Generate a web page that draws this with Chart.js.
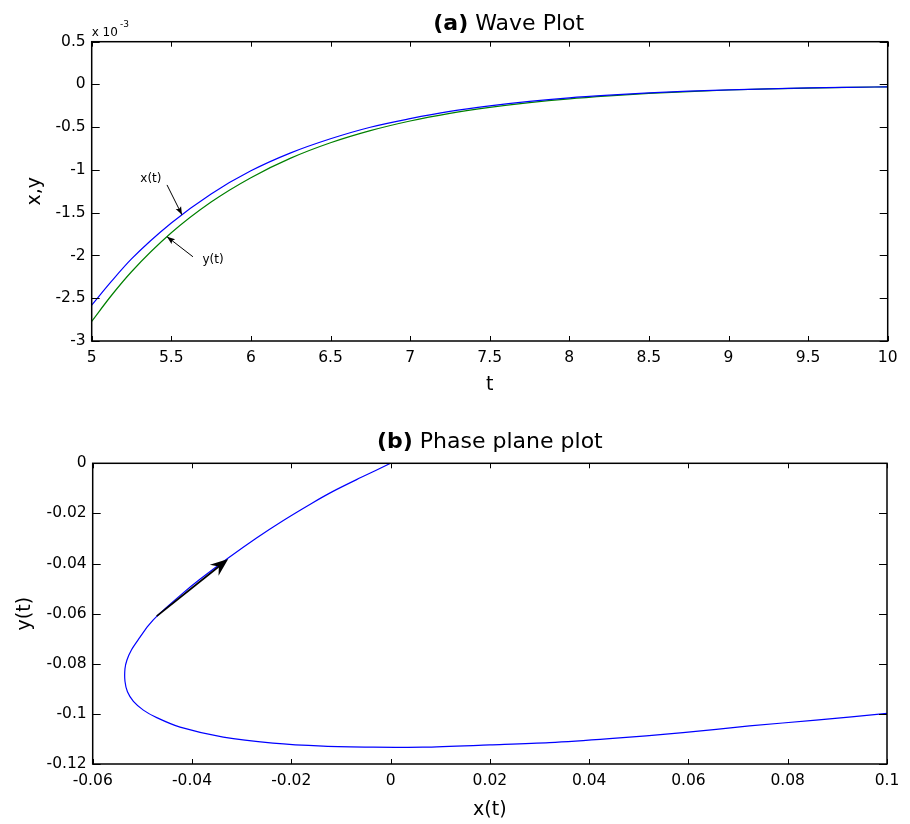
<!DOCTYPE html>
<html><head><meta charset="utf-8">
<script src="https://cdn.jsdelivr.net/npm/chart.js@4.4.1/dist/chart.umd.min.js"></script>
<style>
html,body{margin:0;padding:0;background:#fff;}
#wrap{position:relative;width:910px;height:824px;overflow:hidden;}
canvas{position:absolute;left:0;}
#c1{top:0;} #c2{top:412px;}
</style></head><body>
<div id="wrap"><canvas id="c1" width="910" height="412"></canvas><canvas id="c2" width="910" height="412"></canvas></div>
<script>
// ---- (a) Wave plot data (values in units of 1e-3) ----
const tValues = [5, 5.125, 5.25, 5.5, 5.75, 6, 6.25, 6.5, 6.75, 7, 7.25, 7.5, 7.75, 8, 8.25, 8.5, 8.75, 9, 9.25, 9.5, 9.75, 10];
const xWave  = [-2.58, -2.30, -2.04, -1.62, -1.28, -1.01, -0.80, -0.635, -0.50, -0.40, -0.315, -0.25, -0.197, -0.156, -0.125, -0.099, -0.079, -0.063, -0.051, -0.041, -0.034, -0.028];
const yWave  = [-2.77, -2.465, -2.19, -1.735, -1.375, -1.09, -0.862, -0.682, -0.54, -0.427, -0.338, -0.268, -0.212, -0.168, -0.134, -0.105, -0.083, -0.065, -0.052, -0.042, -0.034, -0.028];
const waveTTicks = [5, 5.5, 6, 6.5, 7, 7.5, 8, 8.5, 9, 9.5, 10];
const waveYTicks = [0.5, 0, -0.5, -1, -1.5, -2, -2.5, -3];

// ---- (b) Phase plane data ----
const phaseX = [0.100, 0.0857, 0.0723, 0.0589, 0.0441, 0.032, 0.020, 0.0065, -0.0035, -0.0136, -0.0237, -0.0337, -0.0424, -0.0471, -0.0498, -0.0518, -0.0530, -0.0535, -0.0535, -0.0531, -0.0522, -0.0505, -0.0488, -0.0468, -0.0420, -0.0384, -0.0327, -0.0270, -0.0216, -0.0160, -0.0116, -0.0060, 0];
const phaseY = [-0.0998, -0.1025, -0.1048, -0.1075, -0.1099, -0.1115, -0.1124, -0.1133, -0.1133, -0.1129, -0.1117, -0.1093, -0.1053, -0.1015, -0.0985, -0.0950, -0.0912, -0.0870, -0.0820, -0.0785, -0.0745, -0.0695, -0.0648, -0.0605, -0.0521, -0.0463, -0.0378, -0.0298, -0.0228, -0.0161, -0.0112, -0.0057, 0];
const phaseXTicks = [-0.06, -0.04, -0.02, 0, 0.02, 0.04, 0.06, 0.08, 0.1];
const phaseYTicks = [0, -0.02, -0.04, -0.06, -0.08, -0.1, -0.12];

// ---- annotations (data coordinates) ----
const waveNotes = [
  {text: 'x(t)', at: [5.372, -1.105], from: [5.473, -1.175], to: [5.567, -1.525]},
  {text: 'y(t)', at: [5.762, -2.05],  from: [5.636, -2.015], to: [5.473, -1.78]}
];
const phaseArrow = {from: [-0.0471, -0.061], to: [-0.0327, -0.0382]};

const FONT = '"DejaVu Sans", Verdana, sans-serif';
const fmt = v => String(Number(Number(v).toFixed(4)));

function frame(chart) {
  const {ctx, chartArea: a, scales: {x, y}} = chart;
  ctx.save();
  ctx.strokeStyle = '#000';
  ctx.lineWidth = 1;
  ctx.beginPath();
  x.ticks.forEach(t => {
    const px = Math.round(x.getPixelForValue(t.value)) + 0.5;
    ctx.moveTo(px, a.bottom); ctx.lineTo(px, a.bottom - 5);
    ctx.moveTo(px, a.top); ctx.lineTo(px, a.top + 5);
  });
  y.ticks.forEach(t => {
    const py = Math.round(y.getPixelForValue(t.value)) + 0.5;
    ctx.moveTo(a.left, py); ctx.lineTo(a.left + 8, py);
    ctx.moveTo(a.right, py); ctx.lineTo(a.right - 8, py);
  });
  ctx.stroke();
  ctx.lineWidth = 1.5;
  ctx.strokeRect(a.left, a.top, a.right - a.left, a.bottom - a.top);
  ctx.restore();
}

function title(chart, bold, rest, dx, baseY) {
  const {ctx, chartArea: a} = chart;
  ctx.save();
  ctx.fillStyle = '#000';
  ctx.textBaseline = 'alphabetic';
  ctx.font = 'bold 22px ' + FONT;
  const w1 = ctx.measureText(bold).width;
  ctx.font = '22px ' + FONT;
  const w2 = ctx.measureText(rest).width;
  const x0 = (a.left + a.right) / 2 + dx - (w1 + w2) / 2;
  ctx.font = 'bold 22px ' + FONT;
  ctx.fillText(bold, x0, baseY);
  ctx.font = '22px ' + FONT;
  ctx.fillText(rest, x0 + w1, baseY);
  ctx.restore();
}

function arrowHead(ctx, x1, y1, x2, y2, L, W, notch) {
  const ang = Math.atan2(y2 - y1, x2 - x1);
  const ux = Math.cos(ang), uy = Math.sin(ang);
  const nx = -uy, ny = ux;
  ctx.beginPath();
  ctx.moveTo(x2, y2);
  ctx.lineTo(x2 - L * ux + W * nx, y2 - L * uy + W * ny);
  ctx.lineTo(x2 - (L - notch) * ux, y2 - (L - notch) * uy);
  ctx.lineTo(x2 - L * ux - W * nx, y2 - L * uy - W * ny);
  ctx.closePath();
  ctx.fill();
}

const wavePlugin = {
  id: 'waveDeco',
  afterDraw(chart) {
    frame(chart);
    const {ctx, chartArea: a, scales: {x, y}} = chart;
    title(chart, '(a)', ' Wave Plot', 19, 30);
    ctx.save();
    ctx.fillStyle = '#000';
    ctx.textBaseline = 'alphabetic';
    ctx.textAlign = 'left';
    ctx.font = '12px ' + FONT;
    ctx.fillText('x 10', a.left, 36);
    const w = ctx.measureText('x 10').width;
    ctx.font = '9px ' + FONT;
    ctx.fillText('-3', a.left + w + 2, 27);
    ctx.strokeStyle = '#000';
    ctx.lineWidth = 1;
    waveNotes.forEach(n => {
      const fx = x.getPixelForValue(n.from[0]), fy = y.getPixelForValue(n.from[1]);
      const tx = x.getPixelForValue(n.to[0]), ty = y.getPixelForValue(n.to[1]);
      ctx.beginPath(); ctx.moveTo(fx, fy); ctx.lineTo(tx, ty); ctx.stroke();
      arrowHead(ctx, fx, fy, tx, ty, 8, 3, 1.5);
      ctx.font = '12px ' + FONT;
      ctx.textAlign = 'center';
      ctx.textBaseline = 'middle';
      ctx.fillText(n.text, x.getPixelForValue(n.at[0]), y.getPixelForValue(n.at[1]));
    });
    ctx.restore();
  }
};

const phasePlugin = {
  id: 'phaseDeco',
  afterDraw(chart) {
    frame(chart);
    const {ctx, scales: {x, y}} = chart;
    title(chart, '(b)', ' Phase plane plot', 0, 36);
    ctx.save();
    const fx = x.getPixelForValue(phaseArrow.from[0]), fy = y.getPixelForValue(phaseArrow.from[1]);
    const tx = x.getPixelForValue(phaseArrow.to[0]), ty = y.getPixelForValue(phaseArrow.to[1]);
    ctx.strokeStyle = '#000';
    ctx.fillStyle = '#000';
    ctx.lineWidth = 1.8;
    const ang = Math.atan2(ty - fy, tx - fx);
    ctx.beginPath(); ctx.moveTo(fx, fy); ctx.lineTo(tx - 10 * Math.cos(ang), ty - 10 * Math.sin(ang)); ctx.stroke();
    arrowHead(ctx, fx, fy, tx, ty, 18, 7, 6);
    ctx.restore();
  }
};

const tickFont = {family: FONT, size: 15.5};

function axes(xTicks, yTicks, xTitle, yTitle, xH, yW, xTitlePad, yTitlePad, titleSize) {
  return {
    x: {
      type: 'linear', min: xTicks[0], max: xTicks[xTicks.length - 1],
      afterBuildTicks: s => { s.ticks = xTicks.map(v => ({value: v})); },
      afterFit: s => { s.height = xH; },
      grid: {display: false, drawTicks: false},
      border: {display: false},
      ticks: {autoSkip: false, maxRotation: 0, color: '#000', font: tickFont, padding: 8, callback: fmt},
      title: {display: true, text: xTitle, color: '#000', font: {family: FONT, size: titleSize}, padding: {top: 0, bottom: xTitlePad}}
    },
    y: {
      type: 'linear', min: yTicks[yTicks.length - 1], max: yTicks[0],
      afterBuildTicks: s => { s.ticks = yTicks.map(v => ({value: v})); },
      afterFit: s => { s.width = yW; },
      grid: {display: false, drawTicks: false},
      border: {display: false},
      ticks: {autoSkip: false, color: '#000', font: tickFont, padding: 6, callback: fmt},
      title: {display: true, text: yTitle, color: '#000', font: {family: FONT, size: titleSize}, padding: {top: yTitlePad, bottom: 0}}
    }
  };
}

const common = {
  responsive: false, animation: false, devicePixelRatio: 1,
  plugins: {legend: {display: false}, tooltip: {enabled: false}, title: {display: false}},
  elements: {point: {radius: 0, hoverRadius: 0}}
};

new Chart(document.getElementById('c1'), {
  type: 'scatter',
  data: {datasets: [
    {label: 'x(t)', data: tValues.map((t, i) => ({x: t, y: xWave[i]})), showLine: true, borderColor: '#0000ff', borderWidth: 1.2, cubicInterpolationMode: 'monotone'},
    {label: 'y(t)', data: tValues.map((t, i) => ({x: t, y: yWave[i]})), showLine: true, borderColor: '#008000', borderWidth: 1.2, cubicInterpolationMode: 'monotone'}
  ]},
  options: Object.assign({}, common, {
    layout: {padding: {top: 41.7, right: 22.3, left: 0, bottom: 0}},
    scales: axes(waveTTicks, waveYTicks, 't', 'x,y', 71, 91.7, 16, 24, 19)
  }),
  plugins: [wavePlugin]
});

new Chart(document.getElementById('c2'), {
  type: 'scatter',
  data: {datasets: [
    {label: 'phase', data: phaseX.map((v, i) => ({x: v, y: phaseY[i]})), showLine: true, borderColor: '#0000ff', borderWidth: 1.2, tension: 0.3}
  ]},
  options: Object.assign({}, common, {
    layout: {padding: {top: 51.3, right: 23, left: 0, bottom: 0}},
    scales: axes(phaseXTicks, phaseYTicks, 'x(t)', 'y(t)', 60, 92.7, 3, 14, 19)
  }),
  plugins: [phasePlugin]
});
</script>
</body></html>
